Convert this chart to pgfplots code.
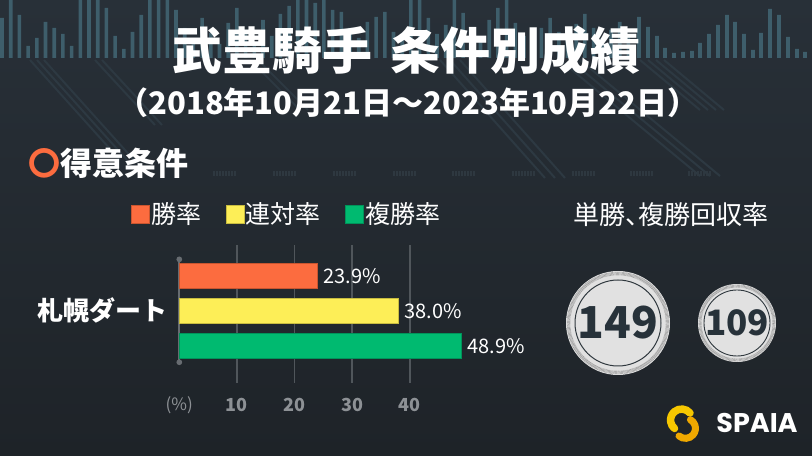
\documentclass[border=0pt]{standalone}
\usepackage{fontspec}
\setmainfont{Noto Sans CJK JP}
\newfontfamily\logofont{Poppins}
\usepackage{pgfplots}
\pgfplotsset{compat=1.18}

\definecolor{bgtop}{HTML}{283038}
\definecolor{bgbot}{HTML}{1E2328}
\definecolor{eqbar}{HTML}{3E5E6B}
\definecolor{stripe}{HTML}{2D3942}
\definecolor{hatch}{HTML}{2E3840}
\definecolor{gridgray}{HTML}{50565B}
\definecolor{axisgray}{HTML}{676C71}
\definecolor{tickgray}{HTML}{8D9195}
\definecolor{orangec}{HTML}{FC6C3F}
\definecolor{orangeedge}{HTML}{C9552F}
\definecolor{yellowc}{HTML}{FDEE57}
\definecolor{yellowedge}{HTML}{C8BC40}
\definecolor{greenc}{HTML}{00BA70}
\definecolor{greenedge}{HTML}{00935A}
\definecolor{circfill}{HTML}{E1E1E1}
\definecolor{dotc}{HTML}{9A9A9A}
\definecolor{ringc}{HTML}{2F383E}
\definecolor{numc}{HTML}{27323A}
\definecolor{logoy}{HTML}{F6C700}
\definecolor{logoo}{HTML}{EFA800}

\newcommand\fs[1]{\fontsize{#1bp}{#1bp}\selectfont}

\begin{document}
\begin{tikzpicture}
\useasboundingbox (0,0) rectangle (812bp,456bp);
\shade[top color=bgtop, bottom color=bgbot] (0,0) rectangle (812bp,456bp);

% equalizer bars at the top
\begin{axis}[at={(0bp,398bp)}, anchor=south west, x=1bp, y=1bp,
  xmin=0, xmax=812, ymin=0, ymax=58, hide axis]
\addplot[ybar, bar width=3.6bp, bar shift=0pt, fill=eqbar, draw=none] coordinates {
(2,40) (10.7,58) (19.4,43) (28.1,12) (36.8,20) (45.5,36) (54.2,30) (62.9,24)
(71.6,12) (80.3,58) (89,58) (97.7,58) (106.4,50) (115.1,22) (123.8,9) (132.5,26)
(141.2,43) (149.9,58) (158.6,58) (167.3,58) (176,48) (184.7,30) (193.4,18) (202.1,40)
(210.8,25) (219.5,14) (228.2,35) (236.9,50) (245.6,28) (254.3,16) (263,38) (271.7,22)
(280.4,44) (289.1,52) (297.8,58) (306.5,58) (315.2,55) (323.9,58) (332.6,48) (341.3,46)
(350,30) (358.7,20) (367.4,36) (376.1,41) (384.8,46) (393.5,26) (402.2,18) (410.9,58)
(419.6,58) (428.3,40) (437,24) (445.7,33) (454.4,58) (463.1,45) (471.8,30) (480.5,18)
(489.2,38) (497.9,50) (506.6,58) (515.3,35) (524,22) (532.7,14) (541.4,30) (550.1,40)
(558.8,26) (567.5,18) (576.2,34) (584.9,44) (593.6,30) (602.3,20) (611,28) (619.7,36)
(628.4,24) (639,41) (648,31) (657,22) (665,10) (674,5) (683,6) (692,7)
(700,15) (709,24) (718,33) (727,43) (735,36) (744,24) (753,8) (761,25)
(770,49) (779,43) (788,21) (797,9) (805,6)
};
\end{axis}

% perspective stripes and hatch marks
\begin{axis}[at={(0bp,0bp)}, anchor=south west, x=1bp, y=1bp,
  xmin=0, xmax=812, ymin=0, ymax=456, hide axis, unbounded coords=jump]
\addplot[stripe, line width=2bp] coordinates {
(30,396) (120,296) (30,nan) (37,396) (127,296) (37,nan) (44,396) (134,296) (44,nan)
(95,396) (155,331) (95,nan) (102,396) (162,331) (102,nan)
(250,396) (300,346) (250,nan) (258,396) (308,346) (258,nan)
(440,396) (545,278) (440,nan) (450,396) (555,278) (450,nan) (460,396) (565,278) (460,nan)
(560,396) (700,280) (560,nan) (570,396) (710,280) (570,nan) (580,396) (720,280) (580,nan)
(640,396) (700,346) (640,nan) (648,396) (708,346) (648,nan) (656,396) (716,346) (656,nan)
(664,396) (724,346)
};
\addplot[hatch, line width=5bp, dash pattern=on 2bp off 1bp] coordinates {
(213,282) (237,282) (213,nan) (273,282) (297,282) (273,nan) (333,282) (357,282) (333,nan)
(393,282) (417,282) (393,nan) (452,282) (476,282) (452,nan) (512,282) (536,282) (512,nan)
(572,282) (596,282) (572,nan) (630,282) (654,282) (630,nan) (688,282) (712,282)
};
\end{axis}

% titles
\node[text=white, font=\bfseries\fs{50}] at (406.7bp,406bp) {武豊騎手\hspace{0.36em}条件別成績};
\node[text=white, font=\bfseries\fs{31}] at (408bp,353bp) {（2018年10月21日～2023年10月22日）};
\node[text=white, anchor=west, inner sep=0pt, font=\bfseries\fs{32}] at (28bp,293bp) {\textcolor{orangec}{〇}得意条件};
\node[text=white, font=\fs{26}] at (671bp,241bp) {単勝{\addfontfeature{RawFeature=+halt}、}複勝回収率};

% main bar chart
\begin{axis}[
  at={(179.3bp,73.1bp)}, anchor=south west,
  x=5.76bp, y=35bp,
  xmin=0, xmax=50, ymin=-2.06, ymax=1.88,
  clip=false,
  axis line style={draw=none},
  major tick style={draw=none},
  xtick={10,20,30,40},
  xmajorgrids, grid style={color=gridgray, line width=1.8bp},
  extra x ticks={0}, extra x tick labels={(\%)},
  extra x tick style={grid=none, xticklabel style={font=\fs{17}}},
  xticklabel style={anchor=center, inner sep=0pt, yshift=-22bp, font=\bfseries\fs{18}, text=tickgray},
  ytick={0}, yticklabels={札幌ダート},
  yticklabel style={anchor=east, inner sep=0pt, xshift=-12bp, font=\bfseries\fs{26}, text=white},
  /pgf/number format/assume math mode=true,
  legend columns=3,
  legend style={at={(axis cs:18.6,2.766)}, anchor=center, draw=none, fill=none,
    text=white, font=\fs{25}, inner sep=0pt, nodes={inner sep=1.5bp},
    /tikz/every even column/.append style={column sep=23bp}},
  mybar/.style={xbar, bar width=25bp, bar shift=0pt, line width=0.8bp,
    point meta=x,
    nodes near coords={\pgfmathprintnumber[fixed,fixed zerofill,precision=1]{\pgfplotspointmeta}\%},
    nodes near coords style={anchor=west, inner sep=0pt, xshift=6bp, text=white, font=\fs{20}},
    legend image code/.code={\draw[##1,/tikz/.cd,line width=0.6bp] (0bp,-9bp) rectangle (18bp,9bp);}},
]
\addplot[forget plot, color=axisgray, line width=1.6bp, mark=*, mark size=2bp,
  mark options={fill=axisgray}] coordinates {(0,-1.47) (0,1.47)};
\addplot[mybar, fill=orangec, draw=orangeedge] coordinates {(23.9,1)};
\addlegendentry{勝率}
\addplot[mybar, fill=yellowc, draw=yellowedge] coordinates {(38.0,0)};
\addlegendentry{連対率}
\addplot[mybar, fill=greenc, draw=greenedge] coordinates {(48.9,-1)};
\addlegendentry{複勝率}
\end{axis}

% return-rate badges
\fill[circfill] (618bp,133bp) circle (52bp);
\draw[dotc, line width=3.5bp, dash pattern=on 0.5bp off 0.7bp] (618bp,133bp) circle (49.5bp);
\draw[ringc, line width=1bp] (618bp,133bp) circle (43bp);
\node[text=numc, font=\bfseries\fs{44}] at (618bp,133bp) {149};

\fill[circfill] (737bp,133bp) circle (39bp);
\draw[dotc, line width=3bp, dash pattern=on 0.5bp off 0.7bp] (737bp,133bp) circle (37bp);
\draw[ringc, line width=0.9bp] (737bp,133bp) circle (33bp);
\node[text=numc, font=\bfseries\fs{35}] at (737bp,133bp) {109};

% logo
\draw[logoy, line width=7.5bp, line cap=round] (690bp,43bp) arc[start angle=40, end angle=230, radius=11bp];
\draw[logoo, line width=7bp, line cap=round] (679bp,20bp) arc[start angle=-130, end angle=60, radius=10bp];
\node[text=white, font=\logofont\bfseries\fs{27}] at (757bp,33bp) {SPAIA};
\end{tikzpicture}
\end{document}
